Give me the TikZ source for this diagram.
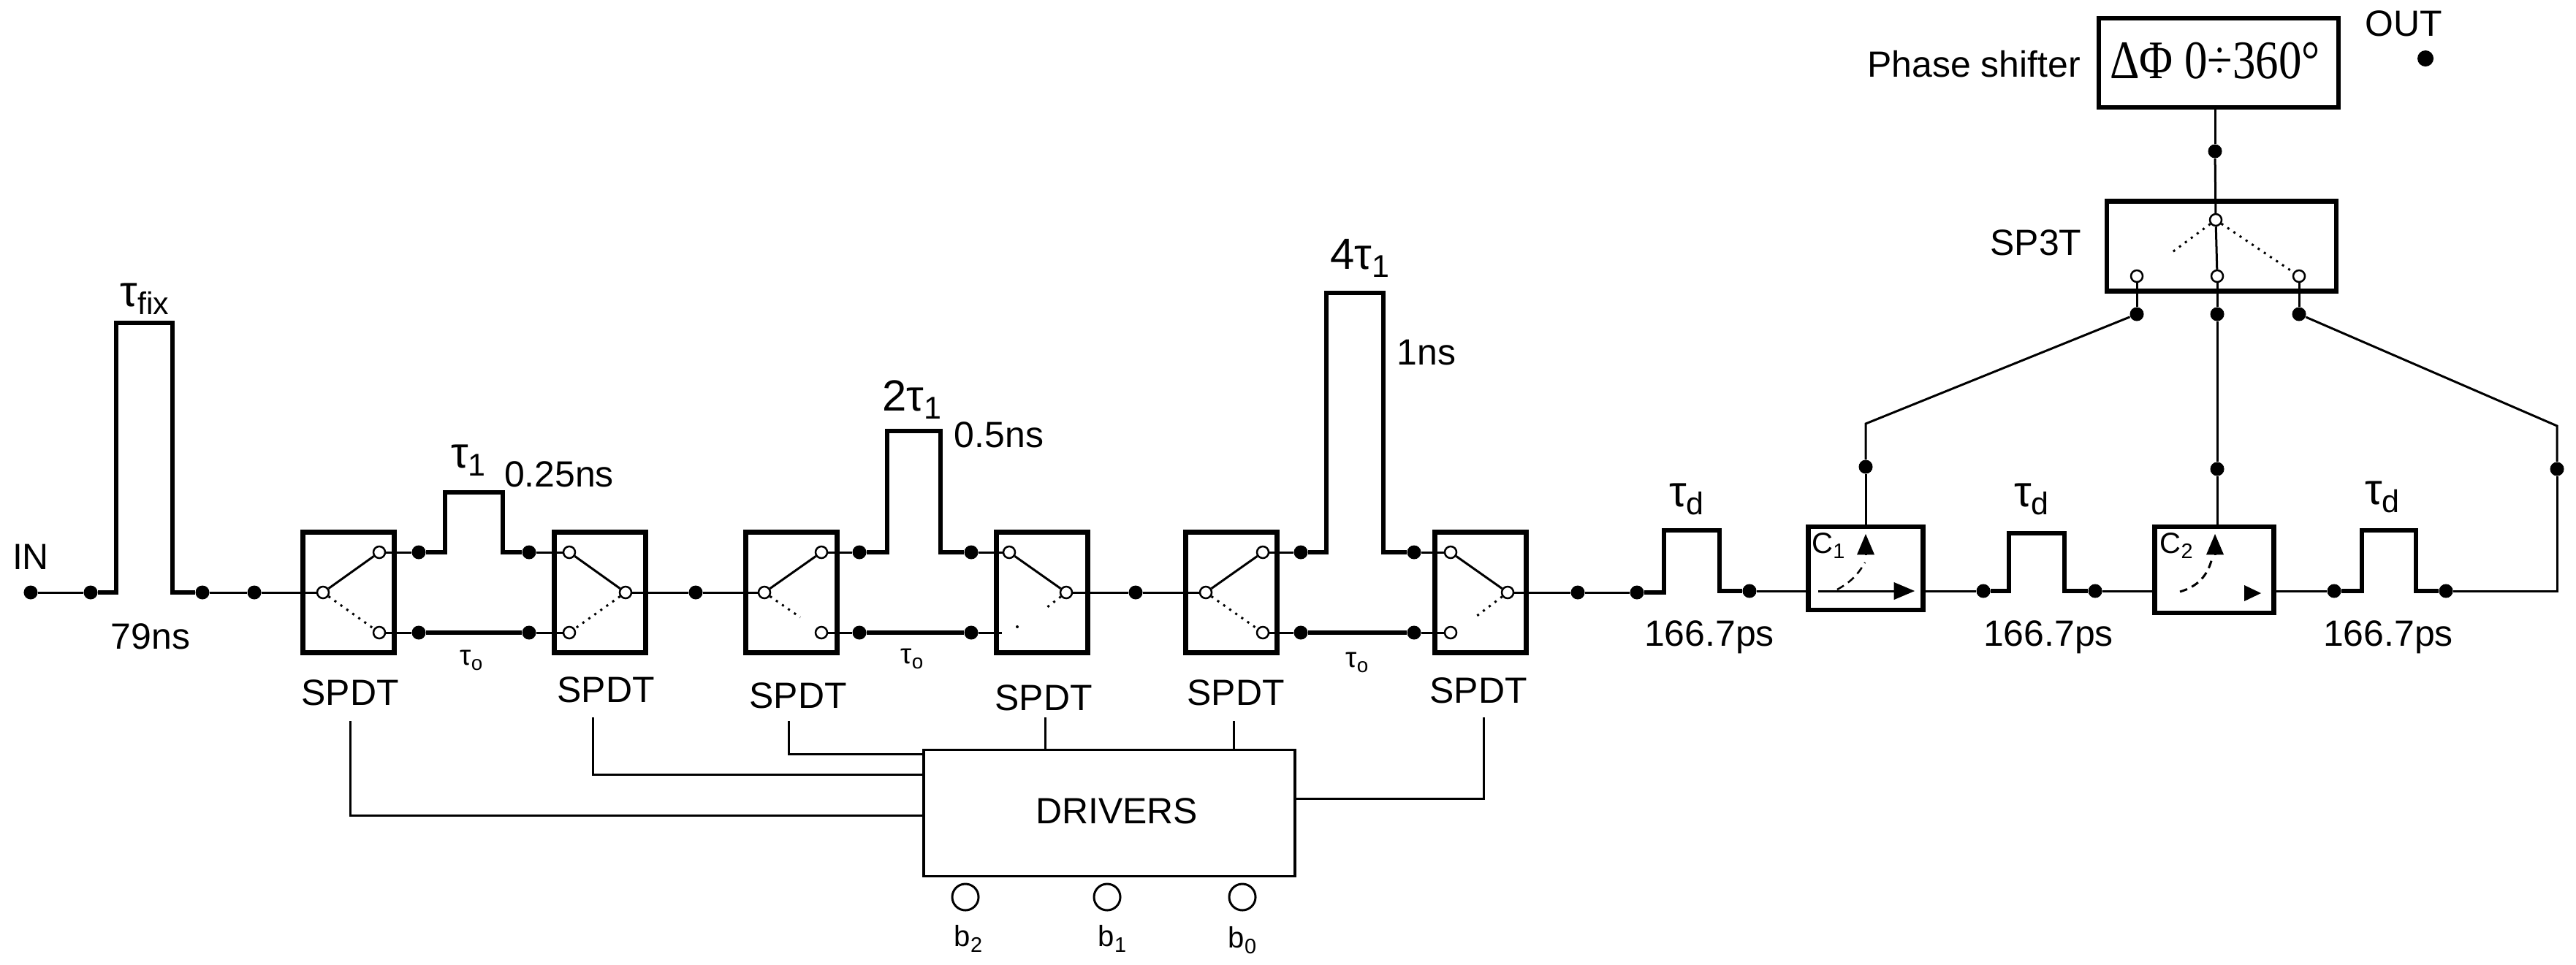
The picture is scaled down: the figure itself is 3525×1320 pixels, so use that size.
\documentclass[tikz,border=0pt]{standalone}
\usepackage{fontspec}
\setmainfont{Liberation Sans}
\newfontfamily\serifcap{Liberation Serif}
\usetikzlibrary{arrows}
\newcommand{\lowtxt}[1]{\raisebox{-.35ex}{\scalebox{.72}{#1}}}
\tikzset{
  >=triangle 45,
  bigbox/.style={draw, line width=.065cm, minimum width=1.25cm, minimum height=1.65cm, inner sep=0pt},
  dotnode/.style={circle, fill=black, inner sep=0pt, minimum size=.19cm},
  term/.style={circle, draw, fill=white, line width=.025cm, inner sep=0pt, minimum size=.16cm},
  wire/.style={draw, line width=.03cm},
  pulse/.style={draw, line width=.065cm, line join=miter},
  swoff/.style={draw, dotted, line width=.03cm},
  ctl/.style={draw, line width=.03cm},
  lab/.style={inner sep=0pt, font=\fontsize{14.2}{14.2}\selectfont},
  smalllab/.style={inner sep=0pt, font=\fontsize{11.4}{11.4}\selectfont},
  taulab/.style={inner sep=0pt, font=\fontsize{17}{17}\selectfont},
  tausmall/.style={inner sep=0pt, font=\fontsize{11}{11}\selectfont},
}

\begin{document}
\begin{tikzpicture}[x=.01cm, y=-.01cm]
    \useasboundingbox (0,0) rectangle (3525,1320);

    % Input and the fixed delay
    \node[lab] (in) at (42,762) {IN};
    \node[dotnode] (d1) at (42,811) {};
    \node[dotnode] (d2) at (124,811) {};
    \node[dotnode] (d3) at (277,811) {};
    \node[dotnode] (d4) at (348,811) {};
    \node[taulab] (tfix) at (198,409) {τ\lowtxt{fix}};
    \node[lab] (tfixv) at (206,871) {79ns};
    \draw[wire] (d1) -- (d2);
    \draw[pulse] (d2) -| (159,442) -- (236,442) |- (d3);
    \draw[wire] (d3) -- (d4);

    % First delay bit
    \node[bigbox] (sw1) at (477,811) {};
    \node[term] (sw1c) at (442,811) {};
    \node[term] (sw1t) at (519,756) {};
    \node[term] (sw1b) at (519,866) {};
    \node[dotnode] (d5) at (573,756) {};
    \node[dotnode] (d6) at (573,866) {};
    \node[dotnode] (d7) at (724,756) {};
    \node[dotnode] (d8) at (724,866) {};
    \node[bigbox] (sw2) at (821,811) {};
    \node[term] (sw2t) at (779,756) {};
    \node[term] (sw2b) at (779,866) {};
    \node[term] (sw2c) at (856,811) {};
    \node[dotnode] (d9) at (952,811) {};
    \node[taulab] (t1) at (641,630) {τ\lowtxt{1}};
    \node[lab] (t1v) at (765,649) {0.25ns};
    \node[tausmall] (t1z) at (645,904) {τ\lowtxt{o}};
    \node[lab] (s1) at (479,948) {SPDT};
    \node[lab] (s2) at (829,944) {SPDT};
    \draw[wire] (d4) -- (sw1c);
    \draw[wire] (sw1c) -- (sw1t);
    \draw[swoff] (sw1c) -- (sw1b);
    \draw[wire] (sw1t) -- (d5);
    \draw[wire] (sw1b) -- (d6);
    \draw[pulse] (d5) -| (609,674) -- (688,674) |- (d7);
    \draw[pulse] (d6) -- (d8);
    \draw[wire] (d7) -- (sw2t);
    \draw[wire] (d8) -- (sw2b);
    \draw[wire] (sw2t) -- (sw2c);
    \draw[swoff] (sw2c) -- (sw2b);
    \draw[wire] (sw2c) -- (d9);

    % Second delay bit
    \node[bigbox] (sw3) at (1083,811) {};
    \node[term] (sw3c) at (1046,811) {};
    \node[term] (sw3t) at (1124,756) {};
    \node[term] (sw3b) at (1124,866) {};
    \coordinate (sw3e) at (1095,845);
    \node[dotnode] (d10) at (1176,756) {};
    \node[dotnode] (d11) at (1176,866) {};
    \node[dotnode] (d12) at (1329,756) {};
    \node[dotnode] (d13) at (1329,866) {};
    \node[bigbox] (sw4) at (1426,811) {};
    \node[term] (sw4t) at (1381,756) {};
    \coordinate (sw4b) at (1371,866);
    \node[term] (sw4c) at (1459,811) {};
    \coordinate (sw4e) at (1428,835);
    \node[circle, fill=black, inner sep=0pt, minimum size=.04cm] (sw4p) at (1392,858) {};
    \node[dotnode] (d14) at (1554,811) {};
    \node[taulab] (t2) at (1248,547) {2τ\lowtxt{1}};
    \node[lab] (t2v) at (1367,595) {0.5ns};
    \node[tausmall] (t2z) at (1248,902) {τ\lowtxt{o}};
    \node[lab] (s3) at (1092,952) {SPDT};
    \node[lab] (s4) at (1428,955) {SPDT};
    \draw[wire] (d9) -- (sw3c);
    \draw[wire] (sw3c) -- (sw3t);
    \draw[swoff] (sw3c) -- (sw3e);
    \draw[wire] (sw3t) -- (d10);
    \draw[wire] (sw3b) -- (d11);
    \draw[pulse] (d10) -| (1214,590) -- (1287,590) |- (d12);
    \draw[pulse] (d11) -- (d13);
    \draw[wire] (d12) -- (sw4t);
    \draw[wire] (d13) -- (sw4b);
    \draw[wire] (sw4t) -- (sw4c);
    \draw[swoff] (sw4c) -- (sw4e);
    \draw[wire] (sw4c) -- (d14);

    % Third delay bit
    \node[bigbox] (sw5) at (1685,811) {};
    \node[term] (sw5c) at (1650,811) {};
    \node[term] (sw5t) at (1728,756) {};
    \node[term] (sw5b) at (1728,866) {};
    \node[dotnode] (d15) at (1780,756) {};
    \node[dotnode] (d16) at (1780,866) {};
    \node[dotnode] (d17) at (1935,756) {};
    \node[dotnode] (d18) at (1935,866) {};
    \node[bigbox] (sw6) at (2026,811) {};
    \node[term] (sw6t) at (1985,756) {};
    \node[term] (sw6b) at (1985,866) {};
    \node[term] (sw6c) at (2063,811) {};
    \coordinate (sw6e) at (2021,843);
    \node[dotnode] (d19) at (2159,811) {};
    \node[taulab] (t4) at (1861,353) {4τ\lowtxt{1}};
    \node[lab] (t4v) at (1952,483) {1ns};
    \node[tausmall] (t4z) at (1857,907) {τ\lowtxt{o}};
    \node[lab] (s5) at (1691,948) {SPDT};
    \node[lab] (s6) at (2023,945) {SPDT};
    \draw[wire] (d14) -- (sw5c);
    \draw[wire] (sw5c) -- (sw5t);
    \draw[swoff] (sw5c) -- (sw5b);
    \draw[wire] (sw5t) -- (d15);
    \draw[wire] (sw5b) -- (d16);
    \draw[pulse] (d15) -| (1815,401) -- (1893,401) |- (d17);
    \draw[pulse] (d16) -- (d18);
    \draw[wire] (d17) -- (sw6t);
    \draw[wire] (d18) -- (sw6b);
    \draw[wire] (sw6t) -- (sw6c);
    \draw[swoff] (sw6c) -- (sw6e);
    \draw[wire] (sw6c) -- (d19);

    % Drivers and the control lines
    \node[draw, line width=.035cm, minimum width=5.08cm, minimum height=1.73cm, inner sep=0pt] (drv) at (1518,1113) {};
    \node[lab] (drvl) at (1528,1110) {DRIVERS};
    \node[circle, draw, line width=.03cm, inner sep=0pt, minimum size=.36cm] (b2c) at (1321,1228) {};
    \node[circle, draw, line width=.03cm, inner sep=0pt, minimum size=.36cm] (b1c) at (1515,1228) {};
    \node[circle, draw, line width=.03cm, inner sep=0pt, minimum size=.36cm] (b0c) at (1700,1228) {};
    \node[smalllab] (b2l) at (1325,1285) {b\lowtxt{2}};
    \node[smalllab] (b1l) at (1522,1285) {b\lowtxt{1}};
    \node[smalllab] (b0l) at (1700,1287) {b\lowtxt{0}};
    \coordinate (c1) at (479,987);
    \coordinate (c2) at (811,982);
    \coordinate (c3) at (1079,987);
    \coordinate (c4) at (1430,982);
    \coordinate (c5) at (1688,987);
    \coordinate (c6) at (2030,982);
    \draw[ctl] (c1) |- (drv.west |- 0,1116);
    \draw[ctl] (c2) |- (drv.west |- 0,1060);
    \draw[ctl] (c3) |- (drv.west |- 0,1032);
    \draw[ctl] (c4) -- (c4 |- drv.north);
    \draw[ctl] (c5) -- (c5 |- drv.north);
    \draw[ctl] (c6) |- (drv.east |- 0,1093);

    % Coupled delay line
    \node[dotnode] (d20) at (2240,811) {};
    \node[dotnode] (d21) at (2394,809) {};
    \node[bigbox, minimum width=1.57cm, minimum height=1.14cm] (cp1) at (2553,778) {};
    \node[dotnode] (d22) at (2714,809) {};
    \node[dotnode] (d23) at (2867,809) {};
    \node[bigbox, minimum width=1.63cm, minimum height=1.18cm] (cp2) at (3030,780) {};
    \node[dotnode] (d24) at (3194,809) {};
    \node[dotnode] (d25) at (3347,809) {};
    \node[taulab] (td1) at (2308,683) {τ\lowtxt{d}};
    \node[taulab] (td2) at (2780,683) {τ\lowtxt{d}};
    \node[taulab] (td3) at (3260,680) {τ\lowtxt{d}};
    \node[lab] (tv1) at (2339,872) {166.7ps};
    \node[lab] (tv2) at (2803,872) {166.7ps};
    \node[lab] (tv3) at (3268,872) {166.7ps};
    \node[smalllab] (c1l) at (2502,747) {C\lowtxt{1}};
    \node[smalllab] (c2l) at (2978,747) {C\lowtxt{2}};
    \draw[wire] (d19) -- (d20);
    \draw[pulse] (d20) -| (2277,726) -- (2353,726) |- (d21);
    \draw[wire] (d21) -- (d21 -| cp1.west);
    \draw[wire] (d22) -- (d22 -| cp1.east);
    \draw[pulse] (d22) -| (2749,730) -- (2825,730) |- (d23);
    \draw[wire] (d23) -- (d23 -| cp2.west);
    \draw[wire] (d24) -- (d24 -| cp2.east);
    \draw[pulse] (d24) -| (3232,726) -- (3306,726) |- (d25);

    % Arrows inside the couplers
    \coordinate (a1) at (2488,809);
    \coordinate (a2) at (2620,809);
    \coordinate (a3) at (2553,760);
    \coordinate (a4) at (2553,731);
    \coordinate (a5) at (2514,807);
    \coordinate (a6) at (2552,770);
    \coordinate (a7) at (3031,760);
    \coordinate (a8) at (3031,731);
    \coordinate (a9) at (2983,810);
    \coordinate (a10) at (3027,764);
    \draw[->, line width=.03cm] (a1) -- (a2);
    \draw[->, line width=.03cm] (a3) -- (a4);
    \draw[densely dashed, line width=.025cm] (a5) to[bend right=15] (a6);
    \draw[->, line width=.03cm] (a7) -- (a8);
    \draw[densely dashed, line width=.03cm] (a9) to[bend right=30] (a10);
    \fill (3071,801) -- (3094,812) -- (3071,823) -- cycle;

    % SP3T switch and phase shifter
    \node[bigbox, minimum width=3.14cm, minimum height=1.23cm] (sp3) at (3040,337) {};
    \node[term] (s3t) at (3032,301) {};
    \node[term] (s3a) at (2924,378) {};
    \node[term] (s3m) at (3034,378) {};
    \node[term] (s3c) at (3146,378) {};
    \coordinate (s3e) at (2970,347);
    \node[lab] (s3l) at (2786,332) {SP3T};
    \node[dotnode] (d26) at (2924,430) {};
    \node[dotnode] (d27) at (3034,430) {};
    \node[dotnode] (d28) at (3146,430) {};
    \coordinate (k1) at (2553,580);
    \coordinate (k2) at (3499,583);
    \coordinate (k3) at (3499,809);
    \node[dotnode] (d29) at (2553,639) {};
    \node[dotnode] (d30) at (3034,642) {};
    \node[dotnode] (d31) at (3499,642) {};
    \node[dotnode] (d32) at (3031,207) {};
    \node[bigbox, minimum width=3.28cm, minimum height=1.22cm] (ps) at (3036,86) {};
    \node[inner sep=0pt, font=\serifcap\fontsize{17.9}{17.9}\selectfont] (psv) at (3031,83) {\scalebox{1}[1.18]{ΔΦ 0÷360°}};
    \node[lab] (psl) at (2701,88) {Phase shifter};
    \node[lab] (outl) at (3289,32) {OUT};
    \node[dotnode, minimum size=.22cm] (out) at (3319,80) {};
    \draw[wire] (d32) -- (d32 |- ps.south);
    \draw[wire] (d32) -- (s3t);
    \draw[wire] (s3t) -- (s3m);
    \draw[swoff] (s3t) -- (s3e);
    \draw[swoff] (s3t) -- (s3c);
    \draw[wire] (s3a) -- (d26);
    \draw[wire] (s3m) -- (d27);
    \draw[wire] (s3c) -- (d28);
    \draw[wire] (d26) -- (k1) -- (d29);
    \draw[wire] (d29) -- (d29 |- cp1.north);
    \draw[wire] (d27) -- (d30);
    \draw[wire] (d30) -- (d30 |- cp2.north);
    \draw[wire] (d28) -- (k2) -- (d31);
    \draw[wire] (d31) -- (k3) -- (d25);
\end{tikzpicture}
\end{document}
